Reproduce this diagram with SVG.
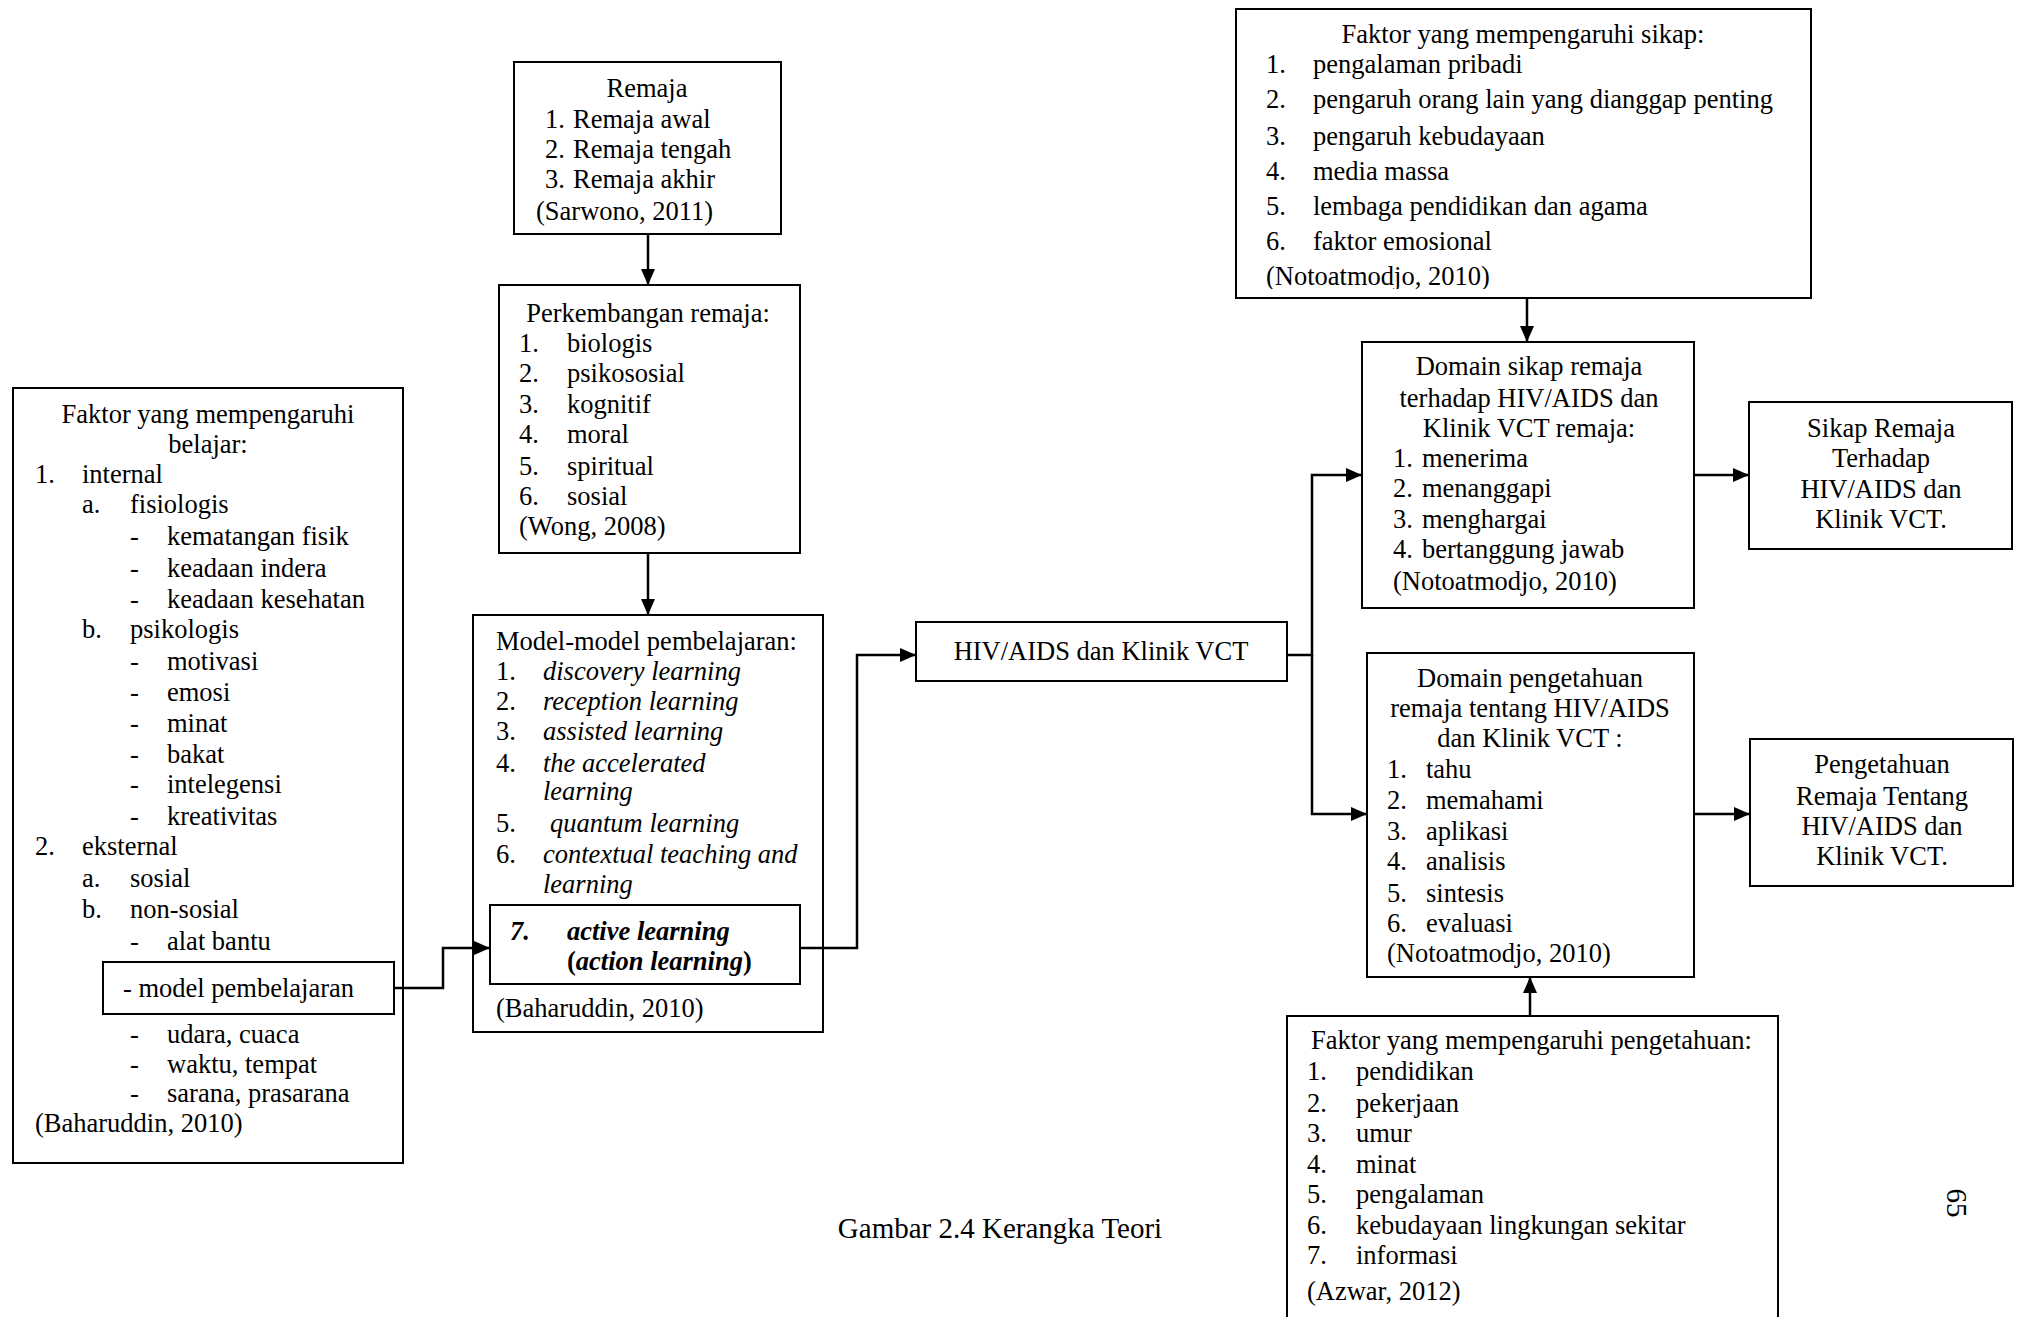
<svg xmlns="http://www.w3.org/2000/svg" width="2017" height="1317" viewBox="0 0 2017 1317">
<style>
.t{font-family:"Liberation Serif","Times New Roman",serif;font-size:26.5px;fill:#000}
.c{text-anchor:middle}
.i{font-style:italic}
.b{font-weight:bold}
.box{fill:#fff;stroke:#000;stroke-width:2}
.conn{fill:none;stroke:#000;stroke-width:2.5}
</style>
<defs>
<marker id="arr" markerUnits="userSpaceOnUse" markerWidth="16" markerHeight="14" refX="16" refY="7" orient="auto">
<path d="M0,0 L16,7 L0,14 Z" fill="#000"/>
</marker>
<clipPath id="clipSikap"><rect x="1236" y="9" width="575" height="280"/></clipPath>
</defs>
<rect width="2017" height="1317" fill="#fff"/>

<g id="faktor-belajar">
<rect class="box" x="13" y="388" width="390" height="775"/>
<text class="t c" x="208" y="423">Faktor yang mempengaruhi</text>
<text class="t c" x="208" y="453">belajar:</text>
<text class="t" x="35" y="483">1.</text><text class="t" x="82" y="483">internal</text>
<text class="t" x="82" y="513">a.</text><text class="t" x="130" y="513">fisiologis</text>
<text class="t" x="130" y="545">-</text><text class="t" x="167" y="545">kematangan fisik</text>
<text class="t" x="130" y="577">-</text><text class="t" x="167" y="577">keadaan indera</text>
<text class="t" x="130" y="608">-</text><text class="t" x="167" y="608">keadaan kesehatan</text>
<text class="t" x="82" y="638">b.</text><text class="t" x="130" y="638">psikologis</text>
<text class="t" x="130" y="670">-</text><text class="t" x="167" y="670">motivasi</text>
<text class="t" x="130" y="701">-</text><text class="t" x="167" y="701">emosi</text>
<text class="t" x="130" y="732">-</text><text class="t" x="167" y="732">minat</text>
<text class="t" x="130" y="763">-</text><text class="t" x="167" y="763">bakat</text>
<text class="t" x="130" y="793">-</text><text class="t" x="167" y="793">intelegensi</text>
<text class="t" x="130" y="825">-</text><text class="t" x="167" y="825">kreativitas</text>
<text class="t" x="35" y="855">2.</text><text class="t" x="82" y="855">eksternal</text>
<text class="t" x="82" y="887">a.</text><text class="t" x="130" y="887">sosial</text>
<text class="t" x="82" y="918">b.</text><text class="t" x="130" y="918">non-sosial</text>
<text class="t" x="130" y="950">-</text><text class="t" x="167" y="950">alat bantu</text>
<text class="t" x="130" y="1043">-</text><text class="t" x="167" y="1043">udara, cuaca</text>
<text class="t" x="130" y="1073">-</text><text class="t" x="167" y="1073">waktu, tempat</text>
<text class="t" x="130" y="1102">-</text><text class="t" x="167" y="1102">sarana, prasarana</text>
<text class="t" x="35" y="1132">(Baharuddin, 2010)</text>
</g>

<g id="model-pembelajaran-item">
<rect class="box" x="103" y="962" width="291" height="52"/>
<text class="t" x="123" y="997">- model pembelajaran</text>
</g>

<g id="remaja">
<rect class="box" x="514" y="62" width="267" height="172"/>
<text class="t c" x="647" y="97">Remaja</text>
<text class="t" x="545" y="128">1.</text><text class="t" x="573" y="128">Remaja awal</text>
<text class="t" x="545" y="158">2.</text><text class="t" x="573" y="158">Remaja tengah</text>
<text class="t" x="545" y="188">3.</text><text class="t" x="573" y="188">Remaja akhir</text>
<text class="t" x="536" y="220">(Sarwono, 2011)</text>
</g>

<g id="perkembangan">
<rect class="box" x="499" y="285" width="301" height="268"/>
<text class="t c" x="648" y="322">Perkembangan remaja:</text>
<text class="t" x="519" y="352">1.</text><text class="t" x="567" y="352">biologis</text>
<text class="t" x="519" y="382">2.</text><text class="t" x="567" y="382">psikososial</text>
<text class="t" x="519" y="413">3.</text><text class="t" x="567" y="413">kognitif</text>
<text class="t" x="519" y="443">4.</text><text class="t" x="567" y="443">moral</text>
<text class="t" x="519" y="475">5.</text><text class="t" x="567" y="475">spiritual</text>
<text class="t" x="519" y="505">6.</text><text class="t" x="567" y="505">sosial</text>
<text class="t" x="519" y="535">(Wong, 2008)</text>
</g>

<g id="model-model">
<rect class="box" x="473" y="615" width="350" height="417"/>
<text class="t" x="496" y="650">Model-model pembelajaran:</text>
<text class="t" x="496" y="680">1.</text><text class="t i" x="543" y="680">discovery learning</text>
<text class="t" x="496" y="710">2.</text><text class="t i" x="543" y="710">reception learning</text>
<text class="t" x="496" y="740">3.</text><text class="t i" x="543" y="740">assisted learning</text>
<text class="t" x="496" y="772">4.</text><text class="t i" x="543" y="772">the accelerated</text>
<text class="t i" x="543" y="800">learning</text>
<text class="t" x="496" y="832">5.</text><text class="t i" x="550" y="832">quantum learning</text>
<text class="t" x="496" y="863">6.</text><text class="t i" x="543" y="863">contextual teaching and</text>
<text class="t i" x="543" y="893">learning</text>
<text class="t" x="496" y="1017">(Baharuddin, 2010)</text>
</g>

<g id="active-learning">
<rect class="box" x="490" y="905" width="310" height="79"/>
<text class="t b i" x="510" y="940">7.</text><text class="t b i" x="567" y="940">active learning</text>
<text class="t b" x="567" y="970">(<tspan class="i">action learning</tspan>)</text>
</g>

<g id="hiv">
<rect class="box" x="916" y="622" width="371" height="59"/>
<text class="t c" x="1101" y="660">HIV/AIDS dan Klinik VCT</text>
</g>

<g id="faktor-sikap">
<rect class="box" x="1236" y="9" width="575" height="289"/>
<text class="t c" x="1523" y="43">Faktor yang mempengaruhi sikap:</text>
<text class="t" x="1266" y="73">1.</text><text class="t" x="1313" y="73">pengalaman pribadi</text>
<text class="t" x="1266" y="108">2.</text><text class="t" x="1313" y="108">pengaruh orang lain yang dianggap penting</text>
<text class="t" x="1266" y="145">3.</text><text class="t" x="1313" y="145">pengaruh kebudayaan</text>
<text class="t" x="1266" y="180">4.</text><text class="t" x="1313" y="180">media massa</text>
<text class="t" x="1266" y="215">5.</text><text class="t" x="1313" y="215">lembaga pendidikan dan agama</text>
<text class="t" x="1266" y="250">6.</text><text class="t" x="1313" y="250">faktor emosional</text>
<text class="t" x="1266" y="285" clip-path="url(#clipSikap)">(Notoatmodjo, 2010)</text>
</g>

<g id="domain-sikap">
<rect class="box" x="1362" y="342" width="332" height="266"/>
<text class="t c" x="1529" y="375">Domain sikap remaja</text>
<text class="t c" x="1529" y="407">terhadap HIV/AIDS dan</text>
<text class="t c" x="1529" y="437">Klinik VCT remaja:</text>
<text class="t" x="1393" y="467">1.</text><text class="t" x="1422" y="467">menerima</text>
<text class="t" x="1393" y="497">2.</text><text class="t" x="1422" y="497">menanggapi</text>
<text class="t" x="1393" y="528">3.</text><text class="t" x="1422" y="528">menghargai</text>
<text class="t" x="1393" y="558">4.</text><text class="t" x="1422" y="558">bertanggung jawab</text>
<text class="t" x="1393" y="590">(Notoatmodjo, 2010)</text>
</g>

<g id="sikap-remaja">
<rect class="box" x="1749" y="402" width="263" height="147"/>
<text class="t c" x="1881" y="437">Sikap Remaja</text>
<text class="t c" x="1881" y="467">Terhadap</text>
<text class="t c" x="1881" y="498">HIV/AIDS dan</text>
<text class="t c" x="1881" y="528">Klinik VCT.</text>
</g>

<g id="domain-pengetahuan">
<rect class="box" x="1367" y="653" width="327" height="324"/>
<text class="t c" x="1530" y="687">Domain pengetahuan</text>
<text class="t c" x="1530" y="717">remaja tentang HIV/AIDS</text>
<text class="t c" x="1530" y="747">dan Klinik VCT :</text>
<text class="t" x="1387" y="778">1.</text><text class="t" x="1426" y="778">tahu</text>
<text class="t" x="1387" y="809">2.</text><text class="t" x="1426" y="809">memahami</text>
<text class="t" x="1387" y="840">3.</text><text class="t" x="1426" y="840">aplikasi</text>
<text class="t" x="1387" y="870">4.</text><text class="t" x="1426" y="870">analisis</text>
<text class="t" x="1387" y="902">5.</text><text class="t" x="1426" y="902">sintesis</text>
<text class="t" x="1387" y="932">6.</text><text class="t" x="1426" y="932">evaluasi</text>
<text class="t" x="1387" y="962">(Notoatmodjo, 2010)</text>
</g>

<g id="pengetahuan-remaja">
<rect class="box" x="1750" y="739" width="263" height="147"/>
<text class="t c" x="1882" y="773">Pengetahuan</text>
<text class="t c" x="1882" y="805">Remaja Tentang</text>
<text class="t c" x="1882" y="835">HIV/AIDS dan</text>
<text class="t c" x="1882" y="865">Klinik VCT.</text>
</g>

<g id="faktor-pengetahuan">
<rect class="box" x="1287" y="1016" width="491" height="330"/>
<text class="t" x="1311" y="1049">Faktor yang mempengaruhi pengetahuan:</text>
<text class="t" x="1307" y="1080">1.</text><text class="t" x="1356" y="1080">pendidikan</text>
<text class="t" x="1307" y="1112">2.</text><text class="t" x="1356" y="1112">pekerjaan</text>
<text class="t" x="1307" y="1142">3.</text><text class="t" x="1356" y="1142">umur</text>
<text class="t" x="1307" y="1173">4.</text><text class="t" x="1356" y="1173">minat</text>
<text class="t" x="1307" y="1203">5.</text><text class="t" x="1356" y="1203">pengalaman</text>
<text class="t" x="1307" y="1234">6.</text><text class="t" x="1356" y="1234">kebudayaan lingkungan sekitar</text>
<text class="t" x="1307" y="1264">7.</text><text class="t" x="1356" y="1264">informasi</text>
<text class="t" x="1307" y="1300">(Azwar, 2012)</text>
</g>

<g id="connectors">
<path class="conn" d="M648,234 L648,285" marker-end="url(#arr)"/>
<path class="conn" d="M648,553 L648,615" marker-end="url(#arr)"/>
<path class="conn" d="M394,988 L443,988 L443,948 L490,948" marker-end="url(#arr)"/>
<path class="conn" d="M800,948 L857,948 L857,655 L916,655" marker-end="url(#arr)"/>
<path class="conn" d="M1287,655 L1312,655 L1312,475 L1362,475" marker-end="url(#arr)"/>
<path class="conn" d="M1312,655 L1312,814 L1367,814" marker-end="url(#arr)"/>
<path class="conn" d="M1527,298 L1527,342" marker-end="url(#arr)"/>
<path class="conn" d="M1530,1016 L1530,977" marker-end="url(#arr)"/>
<path class="conn" d="M1694,475 L1749,475" marker-end="url(#arr)"/>
<path class="conn" d="M1694,814 L1750,814" marker-end="url(#arr)"/>
</g>

<text class="t c" x="1000" y="1238" style="font-size:29px">Gambar 2.4 Kerangka Teori</text>
<text class="t c" transform="translate(1947,1203) rotate(90)" style="font-size:29px">65</text>
</svg>
